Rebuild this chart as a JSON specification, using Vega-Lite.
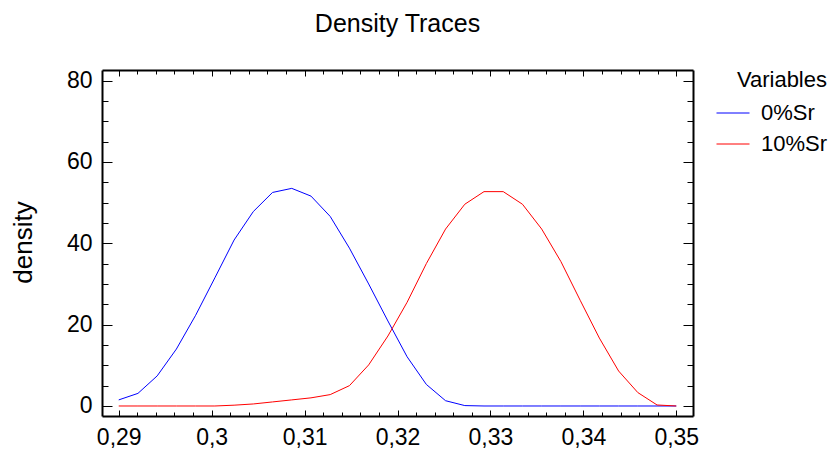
{
  "$schema": "https://vega.github.io/schema/vega-lite/v6.json",
  "width": 591,
  "height": 346,
  "autosize": {"type": "none"},
  "padding": {"left": 102, "top": 70, "right": 140, "bottom": 34},
  "background": "white",
  "config": {
    "view": {"stroke": null},
    "font": "Liberation Sans",
    "axis": {"labelFont": "Liberation Sans", "labelFontSize": 23, "labelColor": "black", "domainColor": "black", "tickColor": "black", "grid": false, "titleFont": "Liberation Sans", "titleColor": "black"},
    "legend": {"labelFont": "Liberation Sans", "titleFont": "Liberation Sans"}
  },
  "title": {"text": "Density Traces", "fontSize": 25, "font": "Liberation Sans", "fontWeight": "normal", "color": "black", "anchor": "middle", "offset": 33},
  "data": {"values": [
    {"x": 0.29, "y": 1.5, "series": "0%Sr"},
    {"x": 0.292069, "y": 3.1, "series": "0%Sr"},
    {"x": 0.294138, "y": 7.4, "series": "0%Sr"},
    {"x": 0.296207, "y": 14.0, "series": "0%Sr"},
    {"x": 0.298276, "y": 22.3, "series": "0%Sr"},
    {"x": 0.300345, "y": 31.5, "series": "0%Sr"},
    {"x": 0.302414, "y": 40.8, "series": "0%Sr"},
    {"x": 0.304483, "y": 47.8, "series": "0%Sr"},
    {"x": 0.306552, "y": 52.5, "series": "0%Sr"},
    {"x": 0.308621, "y": 53.5, "series": "0%Sr"},
    {"x": 0.31069, "y": 51.6, "series": "0%Sr"},
    {"x": 0.312759, "y": 46.6, "series": "0%Sr"},
    {"x": 0.314828, "y": 38.8, "series": "0%Sr"},
    {"x": 0.316897, "y": 30.0, "series": "0%Sr"},
    {"x": 0.318966, "y": 20.9, "series": "0%Sr"},
    {"x": 0.321034, "y": 12.1, "series": "0%Sr"},
    {"x": 0.323103, "y": 5.3, "series": "0%Sr"},
    {"x": 0.325172, "y": 1.3, "series": "0%Sr"},
    {"x": 0.327241, "y": 0.1, "series": "0%Sr"},
    {"x": 0.32931, "y": 0, "series": "0%Sr"},
    {"x": 0.331379, "y": 0, "series": "0%Sr"},
    {"x": 0.333448, "y": 0, "series": "0%Sr"},
    {"x": 0.335517, "y": 0, "series": "0%Sr"},
    {"x": 0.337586, "y": 0, "series": "0%Sr"},
    {"x": 0.339655, "y": 0, "series": "0%Sr"},
    {"x": 0.341724, "y": 0, "series": "0%Sr"},
    {"x": 0.343793, "y": 0, "series": "0%Sr"},
    {"x": 0.345862, "y": 0, "series": "0%Sr"},
    {"x": 0.347931, "y": 0, "series": "0%Sr"},
    {"x": 0.35, "y": 0, "series": "0%Sr"},
    {"x": 0.29, "y": 0, "series": "10%Sr"},
    {"x": 0.292069, "y": 0, "series": "10%Sr"},
    {"x": 0.294138, "y": 0, "series": "10%Sr"},
    {"x": 0.296207, "y": 0, "series": "10%Sr"},
    {"x": 0.298276, "y": 0, "series": "10%Sr"},
    {"x": 0.300345, "y": 0, "series": "10%Sr"},
    {"x": 0.302414, "y": 0.2, "series": "10%Sr"},
    {"x": 0.304483, "y": 0.5, "series": "10%Sr"},
    {"x": 0.306552, "y": 1.0, "series": "10%Sr"},
    {"x": 0.308621, "y": 1.5, "series": "10%Sr"},
    {"x": 0.31069, "y": 2.0, "series": "10%Sr"},
    {"x": 0.312759, "y": 2.8, "series": "10%Sr"},
    {"x": 0.314828, "y": 5.0, "series": "10%Sr"},
    {"x": 0.316897, "y": 10.1, "series": "10%Sr"},
    {"x": 0.318966, "y": 17.2, "series": "10%Sr"},
    {"x": 0.321034, "y": 25.5, "series": "10%Sr"},
    {"x": 0.323103, "y": 35.0, "series": "10%Sr"},
    {"x": 0.325172, "y": 43.5, "series": "10%Sr"},
    {"x": 0.327241, "y": 49.6, "series": "10%Sr"},
    {"x": 0.32931, "y": 52.7, "series": "10%Sr"},
    {"x": 0.331379, "y": 52.7, "series": "10%Sr"},
    {"x": 0.333448, "y": 49.6, "series": "10%Sr"},
    {"x": 0.335517, "y": 43.5, "series": "10%Sr"},
    {"x": 0.337586, "y": 35.5, "series": "10%Sr"},
    {"x": 0.339655, "y": 26.0, "series": "10%Sr"},
    {"x": 0.341724, "y": 16.7, "series": "10%Sr"},
    {"x": 0.343793, "y": 8.6, "series": "10%Sr"},
    {"x": 0.345862, "y": 3.3, "series": "10%Sr"},
    {"x": 0.347931, "y": 0.25, "series": "10%Sr"},
    {"x": 0.35, "y": 0, "series": "10%Sr"}
  ]},
  "layer": [
    {
      "mark": {"type": "line", "strokeWidth": 1},
      "encoding": {
        "x": {"field": "x", "type": "quantitative", "scale": {"domain": [0.2882, 0.3518], "nice": false, "zero": false},
          "axis": {"orient": "bottom", "values": [0.29, 0.3, 0.31, 0.32, 0.33, 0.34, 0.35], "ticks": false, "domain": true, "domainWidth": 2, "labelPadding": 10, "labelExpr": "replace(format(datum.value, '.2~f'), '.', ',')", "title": null}},
        "y": {"field": "y", "type": "quantitative", "scale": {"domain": [-2.46, 82.6], "nice": false, "zero": false},
          "axis": {"orient": "left", "values": [0, 20, 40, 60, 80], "ticks": false, "domain": true, "domainWidth": 2, "labelPadding": 10, "title": "density", "titleFontSize": 26, "titleFontWeight": "normal", "titleX": -79, "titleY": 172, "titleBaseline": "middle", "titleAngle": -90}},
        "color": {"field": "series", "type": "nominal", "scale": {"domain": ["0%Sr", "10%Sr"], "range": ["#0000ff", "#ff0000"]},
          "legend": {"title": "Variables", "orient": "right", "offset": 22, "padding": 0, "titleFontSize": 22, "titleFontWeight": "normal", "titleColor": "black", "titleAnchor": "end", "titlePadding": 4, "labelFontSize": 22, "labelColor": "black", "labelOffset": 11, "symbolType": "stroke", "symbolSize": 1089, "symbolStrokeWidth": 1, "rowPadding": 3}}
      }
    },
    {
      "mark": {"type": "line", "opacity": 0},
      "encoding": {
        "x": {"field": "x", "type": "quantitative", "scale": {"domain": [0.2882, 0.3518], "nice": false, "zero": false},
          "axis": {"orient": "bottom", "values": [0.29, 0.3, 0.31, 0.32, 0.33, 0.34, 0.35], "ticks": true, "tickSize": -6, "tickWidth": 1, "labels": false, "domain": false, "title": null}},
        "y": {"field": "y", "type": "quantitative", "scale": {"domain": [-2.46, 82.6], "nice": false, "zero": false},
          "axis": {"orient": "left", "values": [0, 20, 40, 60, 80], "ticks": true, "tickSize": -10, "tickWidth": 1, "labels": false, "domain": false, "title": null}},
        "detail": {"field": "series"}
      }
    },
    {
      "mark": {"type": "line", "opacity": 0},
      "encoding": {
        "x": {"field": "x", "type": "quantitative", "scale": {"domain": [0.2882, 0.3518], "nice": false, "zero": false},
          "axis": {"orient": "bottom", "values": [0.292, 0.294, 0.296, 0.298, 0.302, 0.304, 0.306, 0.308, 0.312, 0.314, 0.316, 0.318, 0.322, 0.324, 0.326, 0.328, 0.332, 0.334, 0.336, 0.338, 0.342, 0.344, 0.346, 0.348], "ticks": true, "tickSize": -4, "tickWidth": 1, "labels": false, "domain": false, "title": null}},
        "y": {"field": "y", "type": "quantitative", "scale": {"domain": [-2.46, 82.6], "nice": false, "zero": false},
          "axis": {"orient": "left", "values": [5, 10, 15, 25, 30, 35, 45, 50, 55, 65, 70, 75], "ticks": true, "tickSize": -6, "tickWidth": 1, "labels": false, "domain": false, "title": null}},
        "detail": {"field": "series"}
      }
    },
    {
      "mark": {"type": "line", "opacity": 0},
      "encoding": {
        "x": {"field": "x", "type": "quantitative", "scale": {"domain": [0.2882, 0.3518], "nice": false, "zero": false},
          "axis": {"orient": "top", "values": [0.29, 0.3, 0.31, 0.32, 0.33, 0.34, 0.35], "ticks": true, "tickSize": -6, "tickWidth": 1, "labels": false, "domain": true, "domainWidth": 2, "title": null}},
        "y": {"field": "y", "type": "quantitative", "scale": {"domain": [-2.46, 82.6], "nice": false, "zero": false},
          "axis": {"orient": "right", "values": [0, 20, 40, 60, 80], "ticks": true, "tickSize": -10, "tickWidth": 1, "labels": false, "domain": true, "domainWidth": 2, "title": null}},
        "detail": {"field": "series"}
      }
    },
    {
      "mark": {"type": "line", "opacity": 0},
      "encoding": {
        "x": {"field": "x", "type": "quantitative", "scale": {"domain": [0.2882, 0.3518], "nice": false, "zero": false},
          "axis": {"orient": "top", "values": [0.292, 0.294, 0.296, 0.298, 0.302, 0.304, 0.306, 0.308, 0.312, 0.314, 0.316, 0.318, 0.322, 0.324, 0.326, 0.328, 0.332, 0.334, 0.336, 0.338, 0.342, 0.344, 0.346, 0.348], "ticks": true, "tickSize": -4, "tickWidth": 1, "labels": false, "domain": false, "title": null}},
        "y": {"field": "y", "type": "quantitative", "scale": {"domain": [-2.46, 82.6], "nice": false, "zero": false},
          "axis": {"orient": "right", "values": [5, 10, 15, 25, 30, 35, 45, 50, 55, 65, 70, 75], "ticks": true, "tickSize": -6, "tickWidth": 1, "labels": false, "domain": false, "title": null}},
        "detail": {"field": "series"}
      }
    }
  ],
  "resolve": {"axis": {"x": "independent", "y": "independent"}}
}
